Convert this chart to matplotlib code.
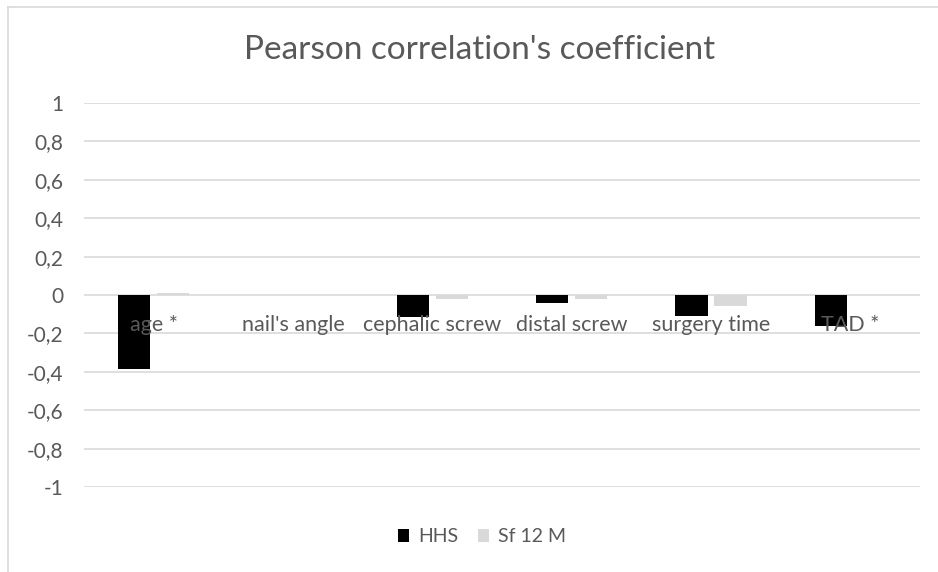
import numpy as np
import matplotlib.pyplot as plt

plt.rc('font', family='Lato')

# data
categories = ["age *", "nail's angle", "cephalic screw", "distal screw", "surgery time", "TAD *"]
hhs = [-0.385, 0.0, -0.115, -0.04, -0.11, -0.16]
sf12m = [0.01, 0.0, -0.02, -0.02, -0.055, 0.0]
yticks = [1, 0.8, 0.6, 0.4, 0.2, 0, -0.2, -0.4, -0.6, -0.8, -1]

grey_txt = '#595959'

fig = plt.figure(figsize=(9.38, 5.72), dpi=100)

# chart frame (top and left edges visible)
fig.add_artist(plt.Line2D([8/938, 1], [1-7/572, 1-7/572], color='#d9d9d9', lw=1.2))
fig.add_artist(plt.Line2D([8/938, 8/938], [0, 1-7/572], color='#d9d9d9', lw=1.2))

ax = fig.add_axes([84/938, 1-487/572, 836/938, 384/572])
x = np.arange(len(categories))
w = 0.23
ax.bar(x - 0.14, hhs, width=w, color='black', label='HHS', zorder=3)
ax.bar(x + 0.14, sf12m, width=w, color='#d9d9d9', label='Sf 12 M', zorder=3)

ax.set_xlim(-0.5, len(categories) - 0.5)
ax.set_ylim(-1, 1)
ax.set_yticks(yticks)
ax.set_yticklabels([('%g' % t).replace('.', ',') for t in yticks], color=grey_txt, fontsize=15)
ax.tick_params(axis='y', length=0, pad=15)
ax.set_xticks([])
ax.yaxis.grid(True, color='#d9d9d9', lw=1.2, zorder=0)
for s in ax.spines.values():
    s.set_visible(False)

# category labels sit next to the zero axis
for xi, lab in zip(x, categories):
    ax.text(xi, -0.155, lab, ha='center', va='center', color=grey_txt, fontsize=15.5, zorder=4)

fig.text(480/938, 1-50/572, "Pearson correlation's coefficient", ha='center', va='center',
         color=grey_txt, fontsize=24)

fig.legend(loc='center', bbox_to_anchor=(482/938, 1-537/572), ncol=2, frameon=False,
           fontsize=14, labelcolor=grey_txt, handlelength=0.6, handleheight=0.6,
           handletextpad=0.45, columnspacing=1.0)

plt.savefig('out.png', dpi=100)
